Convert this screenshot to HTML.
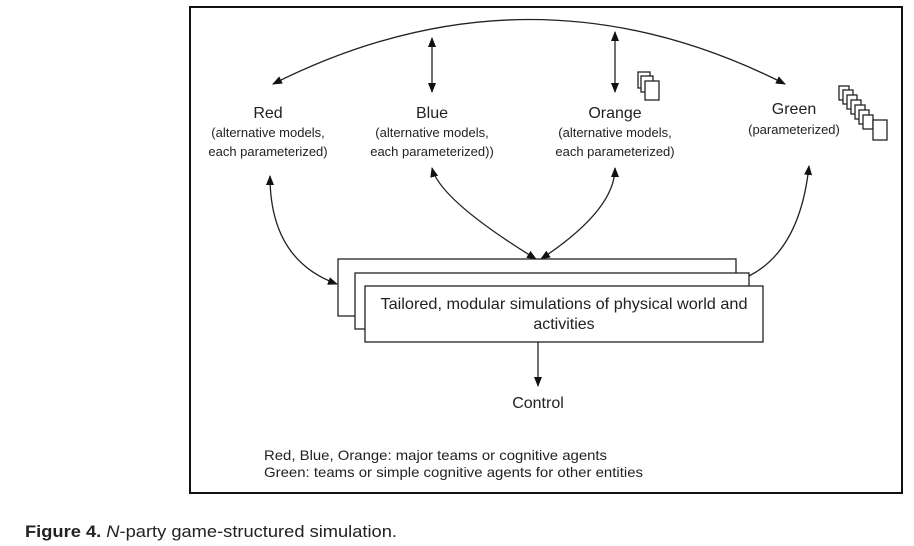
<!DOCTYPE html>
<html><head><style>
body{margin:0;background:#fff;width:914px;height:546px;overflow:hidden;font-family:"Liberation Sans",sans-serif;}
svg{position:absolute;left:0;top:0}
</style></head><body>
<svg width="914" height="546" viewBox="0 0 914 546" font-family="Liberation Sans, sans-serif">
<defs>
<marker id="a" markerWidth="10" markerHeight="10" refX="9" refY="5" orient="auto-start-reverse" markerUnits="userSpaceOnUse"><path d="M0,1 L10,5 L0,9 z" fill="#111"/></marker>
</defs>
<rect x="190" y="7" width="712" height="486" fill="none" stroke="#111" stroke-width="2"/>
<g fill="none" stroke="#222" stroke-width="1.3">
<path d="M273,84 Q530,-45 785,84" marker-start="url(#a)" marker-end="url(#a)"/>
<path d="M432,38 L432,92" marker-start="url(#a)" marker-end="url(#a)"/>
<path d="M615,32 L615,92" marker-start="url(#a)" marker-end="url(#a)"/>
<path d="M270,176 Q270,260 337,284" marker-start="url(#a)" marker-end="url(#a)"/>
<path d="M432,168 Q440,200 536,259" marker-start="url(#a)" marker-end="url(#a)"/>
<path d="M615,168 Q615,210 541,259" marker-start="url(#a)" marker-end="url(#a)"/>
<path d="M809,166 Q800,250 749,276" marker-start="url(#a)"/>
<path d="M538,342 L538,386" marker-end="url(#a)"/>
</g>
<g fill="#fff" stroke="#222" stroke-width="1.3">
<rect x="338" y="259" width="398" height="57"/>
<rect x="355" y="273" width="394" height="56"/>
<rect x="365" y="286" width="398" height="56"/>
<rect x="638" y="72" width="12" height="16"/><rect x="641" y="76" width="12" height="16"/><rect x="645" y="81" width="14" height="19"/>
<rect x="839" y="86" width="10" height="14"/><rect x="843" y="90" width="10" height="14"/><rect x="847" y="95" width="10" height="14"/><rect x="851" y="100" width="10" height="14"/><rect x="855" y="105" width="10" height="14"/><rect x="859" y="110" width="10" height="14"/><rect x="863" y="115" width="10" height="14"/><rect x="873" y="120" width="14" height="20"/>
</g>
<g fill="#222" text-anchor="middle" font-size="13">
<text x="268" y="118" font-size="16">Red</text>
<text x="268" y="137">(alternative models,</text>
<text x="268" y="156">each parameterized)</text>
<text x="432" y="118" font-size="16">Blue</text>
<text x="432" y="137">(alternative models,</text>
<text x="432" y="156">each parameterized))</text>
<text x="615" y="118" font-size="16">Orange</text>
<text x="615" y="137">(alternative models,</text>
<text x="615" y="156">each parameterized)</text>
<text x="794" y="114" font-size="16">Green</text>
<text x="794" y="134">(parameterized)</text>
<text x="564" y="309" font-size="16" textLength="367" lengthAdjust="spacingAndGlyphs">Tailored, modular simulations of physical world and</text>
<text x="564" y="329" font-size="16">activities</text>
<text x="538" y="408" font-size="16">Control</text>
</g>
<g fill="#222" font-size="14">
<text x="264" y="460" textLength="343" lengthAdjust="spacingAndGlyphs">Red, Blue, Orange: major teams or cognitive agents</text>
<text x="264" y="477" textLength="379" lengthAdjust="spacingAndGlyphs">Green: teams or simple cognitive agents for other entities</text>
</g>
<text x="25" y="537" font-size="17" fill="#222" textLength="372" lengthAdjust="spacingAndGlyphs"><tspan font-weight="bold">Figure 4.</tspan>  <tspan font-style="italic">N</tspan>-party game-structured simulation.</text>
</svg>
</body></html>
